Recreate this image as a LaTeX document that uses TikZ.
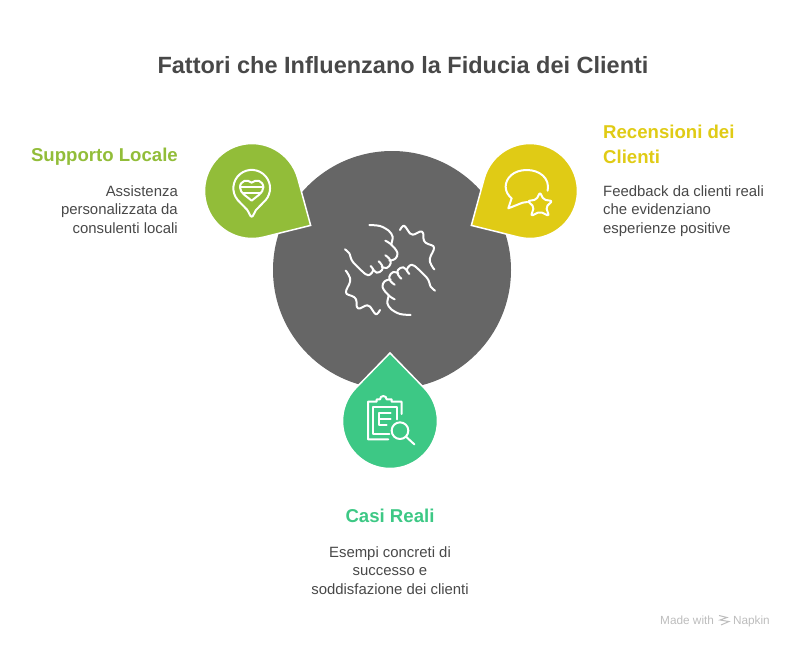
\documentclass[tikz,border=0pt]{standalone}
\usepackage{fontspec}
\setmainfont{Liberation Sans}
\usetikzlibrary{calc}
\definecolor{hubgray}{HTML}{666666}
\definecolor{txtgray}{HTML}{484848}
\definecolor{leafgreen}{HTML}{92BD39}
\definecolor{sunyellow}{HTML}{E0CB15}
\definecolor{mintgreen}{HTML}{3DC885}
\definecolor{markgray}{HTML}{BDBDBD}
\tikzset{
    head_txt/.style={inner sep=0pt, font=\fontsize{18.6}{25}\selectfont\bfseries},
    body_txt/.style={inner sep=0pt, text=txtgray, font=\fontsize{14.9}{18.6}\selectfont},
    icon_line/.style={draw=white, line width=2pt, line cap=round, line join=round},
    zoomed/.style={x=0.3333pt, y=-0.3333pt}
}
\newcommand{\dropshape}[3]{
    \filldraw[fill=#3, draw=white, line width=1.5pt, line join=miter]
    ($(#1)+(#2:68)$) -- ($(#1)+(#2+46:47.5)$)
    arc[start angle=#2+46, delta angle=268, radius=47.5] -- cycle;
}

\begin{document}
\begin{tikzpicture}[x=1pt,y=1pt]
    \useasboundingbox (0,0) rectangle (793,-649);

    % title
    \node[inner sep=0pt, text=txtgray, font=\fontsize{23.5}{28}\selectfont\bfseries] (title) at (403,-65)
    {Fattori che Influenzano la Fiducia dei Clienti};

    % hub and drops
    \fill[hubgray] (392,-270) circle (119);
    \coordinate (drop_left) at (252,-191);
    \coordinate (drop_right) at (530,-191);
    \coordinate (drop_bottom) at (390,-421);
    \dropshape{drop_left}{-30.4}{leafgreen}
    \dropshape{drop_right}{210.4}{sunyellow}
    \dropshape{drop_bottom}{90}{mintgreen}

    % hands
    \begin{scope}[shift={(330,-210)}, zoomed, icon_line]
    \foreach \ang in {0,180}{
        \begin{scope}[rotate around={\ang:(180,180)}]
        \draw plot[smooth, tension=0.8] coordinates {(210,60) (222,47) (234,62) (248,74) (276,65) (282,92) (294,102) (312,113) (300,145) (304,165) (313,178)};
        \draw plot[smooth, tension=0.5] coordinates {(118,45) (150,48) (176,62) (188,80) (184,102)};
        \draw plot[smooth, tension=0.5] coordinates {(45,118) (58,130) (68,155) (106,192) (120,194) (130,180) (122,168)};
        \draw plot[smooth, tension=0.8] coordinates {(128,176) (140,188) (156,180) (156,166) (146,154)};
        \draw plot[smooth, tension=0.8] coordinates {(155,170) (170,174) (182,160) (178,146) (166,136)};
        \draw plot[smooth, tension=0.7] coordinates {(178,152) (196,146) (202,128) (184,104) (166,92)};
        \end{scope}
    }
    \end{scope}

    % heart pin
    \begin{scope}[shift={(190,-130)}, zoomed, icon_line]
    \draw (143,210) arc[start angle=140, delta angle=260, radius=55]
        -- (198,240) .. controls (192,248) and (190,260) .. (185,260)
        .. controls (180,260) and (178,248) .. (172,240) -- cycle;
    \draw (185,158) .. controls (172,146) and (150,152) .. (150,172)
        .. controls (150,190) and (172,200) .. (185,212)
        .. controls (198,200) and (220,190) .. (220,172)
        .. controls (220,152) and (198,146) .. (185,158) -- cycle;
    \draw (150,172) -- (220,172);
    \draw (158,190) -- (212,190);
    \end{scope}

    % bubble and star
    \begin{scope}[shift={(460,-130)}, zoomed, icon_line]
    \draw (263,182) .. controls (270,145) and (240,120) .. (200,120)
        .. controls (160,120) and (137,145) .. (137,170)
        .. controls (137,185) and (145,197) .. (155,205)
        -- (145,235) -- (188,218) -- (202,216);
    \draw[rounded corners=2pt] (240,187) -- (251,209) -- (277,213) -- (258,231) -- (267,258)
        -- (240,245) -- (213,258) -- (222,231) -- (203,213) -- (229,209) -- cycle;
    \end{scope}

    % clipboard and lens
    \begin{scope}[shift={(360,-390)}, zoomed, icon_line]
    \draw (85,148) -- (24,148) -- (24,35) -- (50,35) -- (50,28) -- (60,28)
        arc[start angle=180, end angle=360, radius=10] -- (95,28) -- (95,35) -- (125,35) -- (125,72);
    \draw (88,132) -- (40,132) -- (40,50) -- (110,50) -- (110,88);
    \draw (92,68) -- (58,68) -- (58,105) -- (80,105);
    \draw (58,87) -- (92,87);
    \draw (120,122) circle (25);
    \draw (138,140) -- (163,163);
    \end{scope}

    % left text
    \node[head_txt, anchor=east, text=leafgreen] (left_head) at (178,-157) {Supporto Locale};
    \node[body_txt, anchor=north east, align=right] (left_body) at (178,-185)
    {Assistenza\\personalizzata da\\consulenti locali};

    % right text
    \node[head_txt, anchor=north west, align=left, text=sunyellow] (right_head) at (603,-125)
    {Recensioni dei\\Clienti};
    \node[body_txt, anchor=north west, align=left] (right_body) at (603,-185)
    {Feedback da clienti reali\\che evidenziano\\esperienze positive};

    % bottom text
    \node[head_txt, anchor=center, text=mintgreen] (bottom_head) at (390,-516) {Casi Reali};
    \node[body_txt, anchor=north, align=center] (bottom_body) at (390,-546)
    {Esempi concreti di\\successo e\\soddisfazione dei clienti};

    % mark
    \node[inner sep=0pt, anchor=base west, text=markgray, font=\fontsize{11.8}{14}\selectfont] (mark_made) at (660,-624) {Made with};
    \node[inner sep=0pt, anchor=base east, text=markgray, font=\fontsize{11.8}{14}\selectfont] (mark_napkin) at (770,-624) {Napkin};
    \draw[markgray, line width=1pt] (719,-615.5) -- (727,-617.5) -- (720,-620) -- (729,-621.5) -- (721,-625);
\end{tikzpicture}
\end{document}
